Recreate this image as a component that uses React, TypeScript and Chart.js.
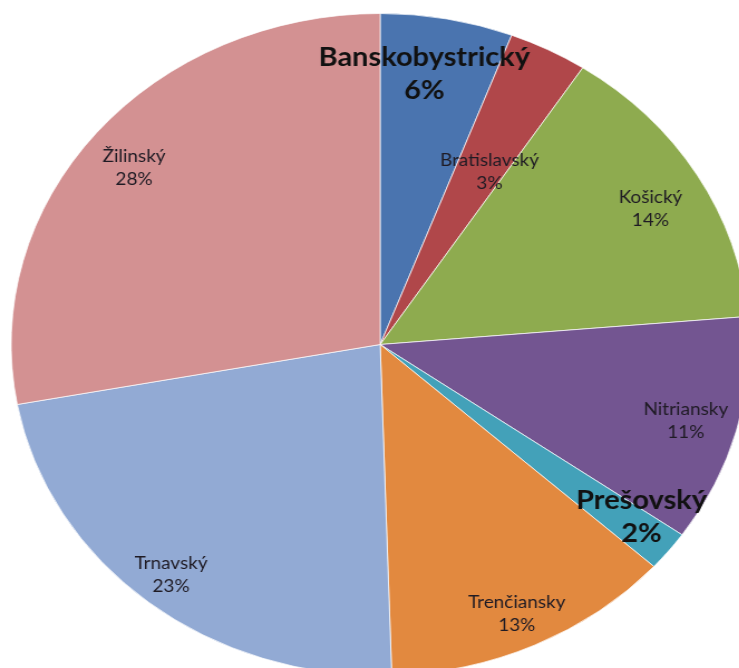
import React, { useEffect, useRef } from 'react';
import { Chart, registerables } from 'chart.js';

Chart.register(...registerables);

// Data
const regions = [
  'Banskobystrický',
  'Bratislavský',
  'Košický',
  'Nitriansky',
  'Prešovský',
  'Trenčiansky',
  'Trnavský',
  'Žilinský',
];
const shares = [5.8, 3.45, 14.4, 11.1, 1.95, 12.8, 22.6, 27.9];

// Styling
const sliceColors = ['#4A74AF', '#B0474A', '#8EAB4F', '#735591', '#43A1B9', '#E2893F', '#92AAD4', '#D39192'];
const emphasized = [true, false, false, false, true, false, false, false];
const labelRadius = [0.825, 0.6, 0.84, 0.86, 0.88, 0.895, 0.897, 0.853];
const labelAngleShiftDeg = [-2.1, 2.5, 1.5, 0.5, -2.2, 0.4, 0.3, -1.2];

const STRETCH = 1.1148;

const labelPlugin = {
  id: 'sliceLabels',
  afterDatasetsDraw(chart: any) {
    const ctx = chart.ctx as CanvasRenderingContext2D;
    const meta = chart.getDatasetMeta(0);
    const data = chart.data.datasets[0].data as number[];
    const total = data.reduce((a, b) => a + b, 0);
    meta.data.forEach((arc: any, i: number) => {
      const p = arc.getProps(['x', 'y', 'startAngle', 'endAngle', 'outerRadius'], true);
      const mid = (p.startAngle + p.endAngle) / 2 + (labelAngleShiftDeg[i] * Math.PI) / 180;
      const r = p.outerRadius * labelRadius[i];
      const x = p.x + Math.cos(mid) * r;
      const y = p.y + Math.sin(mid) * r;
      const bold = emphasized[i];
      ctx.save();
      ctx.font = bold ? 'bold 26px Lato, "Open Sans", sans-serif' : '17px Lato, "Open Sans", sans-serif';
      ctx.fillStyle = bold ? '#111111' : '#1f1b24';
      ctx.textAlign = 'center';
      ctx.textBaseline = 'middle';
      const gap = bold ? 33 : 23;
      ctx.fillText(String(chart.data.labels[i]), x, y - gap / 2);
      ctx.fillText(Math.round((data[i] / total) * 100) + '%', x, y + gap / 2);
      ctx.restore();
    });
  },
};

export default function App() {
  const ref = useRef<HTMLCanvasElement>(null);
  useEffect(() => {
    const chart = new Chart(ref.current as HTMLCanvasElement, {
      type: 'pie',
      data: {
        labels: regions,
        datasets: [
          {
            data: shares,
            backgroundColor: sliceColors,
            borderColor: 'rgba(255,255,255,0.7)',
            borderWidth: 1,
          },
        ],
      },
      options: {
        responsive: false,
        animation: false,
        events: [],
        layout: { padding: { top: 13, bottom: 14, left: 0, right: 0 } },
        plugins: { legend: { display: false }, tooltip: { enabled: false } },
      },
      plugins: [labelPlugin],
    });
    return () => chart.destroy();
  }, []);
  return (
    <div
      style={{
        position: 'fixed',
        left: 0,
        top: 0,
        width: 739,
        height: 668,
        overflow: 'hidden',
        background: '#fff',
      }}
    >
      <div style={{ transform: `scaleX(${STRETCH})`, transformOrigin: '0 0', width: 682, height: 690 }}>
        <canvas ref={ref} width={682} height={690} style={{ display: 'block', width: 682, height: 690 }} />
      </div>
    </div>
  );
}
